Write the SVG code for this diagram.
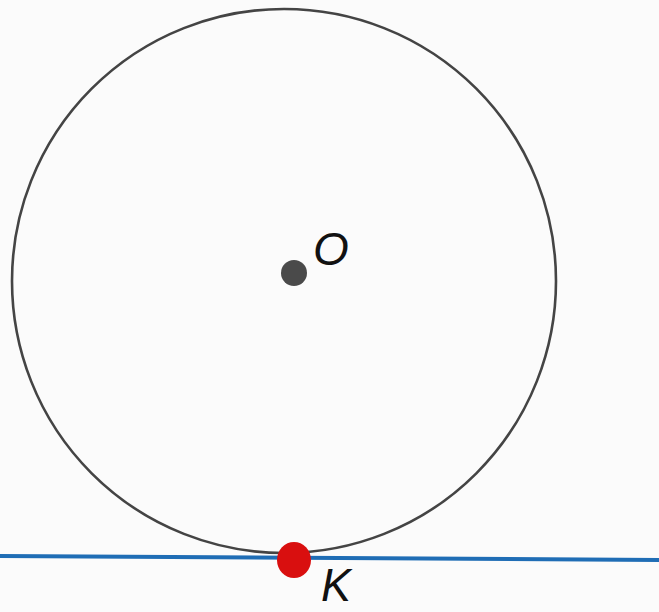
<svg xmlns="http://www.w3.org/2000/svg" width="659" height="612" viewBox="0 0 659 612">
<style>
.lbl{font-family:"Liberation Sans","DejaVu Sans",sans-serif;font-style:italic;font-size:46px;fill:#111}
</style>
<rect width="659" height="612" fill="#fbfbfb"/>
<g id="circle"><circle cx="284" cy="281" r="272" fill="none" stroke="#444" stroke-width="2.6"/></g>
<g id="connectors"><line x1="0" y1="556" x2="659" y2="560" stroke="#1f6db5" stroke-width="4"/></g>
<g id="O"><circle cx="294" cy="273" r="13" fill="#4a4a4a"/><text class="lbl" x="313" y="265">O</text></g>
<g id="K"><ellipse cx="294" cy="560" rx="17" ry="18" fill="#d90f0f"/><text class="lbl" x="321" y="601" textLength="30" lengthAdjust="spacingAndGlyphs">K</text></g>
</svg>
